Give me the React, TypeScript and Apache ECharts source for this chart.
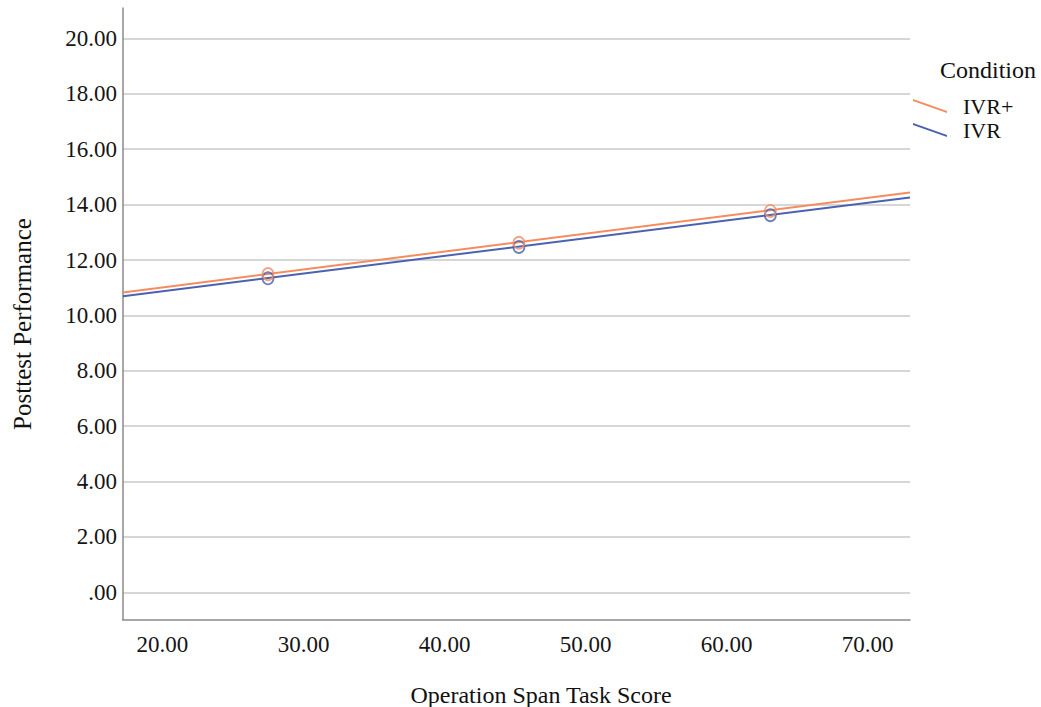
import React, { useEffect, useRef } from "react";
import * as echarts from "echarts";

const seriesNames = ["IVR+", "IVR"];
const seriesColors = ["#F58C5F", "#4A62AF"];
// fitted line end points [x, y]
const lineIVRPlus = [[17.2, 10.83], [73.0, 14.44]];
const lineIVR = [[17.2, 10.69], [73.0, 14.26]];
// plotted points at mean and ±1 SD of the span score
const pointsIVRPlus = [[27.48, 11.49], [45.27, 12.62], [63.1, 13.77]];
const pointsIVR = [[27.48, 11.34], [45.27, 12.47], [63.1, 13.62]];
const xRange = [17.2, 73.0];
const yRange = [-1.0, 21.1];

const fmt = (v: number) => (v === 0 ? ".00" : v.toFixed(2));
const serif = "Liberation Serif";

export default function App() {
  const ref = useRef<HTMLDivElement>(null);
  useEffect(() => {
    if (!ref.current) return;
    const chart = echarts.init(ref.current, null, { renderer: "svg" });
    chart.setOption({
      animation: false,
      backgroundColor: "#ffffff",
      textStyle: { fontFamily: serif },
      title: {
        text: "Condition",
        left: 935,
        top: 53,
        textStyle: { fontFamily: serif, fontSize: 24, fontWeight: "normal", color: "#111" },
      },
      legend: {
        orient: "vertical",
        left: 908,
        top: 90,
        itemWidth: 34,
        itemHeight: 14,
        itemGap: 2,
        data: [
          { name: seriesNames[0], icon: "path://M0,0 L34,12 L34,14 L0,2 Z" },
          { name: seriesNames[1], icon: "path://M0,0 L34,12 L34,14 L0,2 Z" },
        ],
        textStyle: { fontFamily: serif, fontSize: 22, lineHeight: 20, color: "#111", padding: [0, 0, 0, 11] },
      },
      grid: { left: 123, top: 8, right: 131, bottom: 87, containLabel: false, outerBoundsMode: "none" },
      xAxis: {
        type: "value",
        min: xRange[0],
        max: xRange[1],
        splitNumber: 5,
        name: "Operation Span Task Score",
        nameLocation: "middle",
        nameGap: 63,
        nameTextStyle: { fontFamily: serif, fontSize: 24, color: "#111", padding: [0, 0, 0, 49] },
        axisLine: { show: true, onZero: false, lineStyle: { color: "#8a8a8a", width: 1.5 } },
        axisTick: { show: false },
        splitLine: { show: false },
        axisLabel: {
          showMinLabel: false,
          showMaxLabel: false,
          formatter: fmt,
          fontFamily: serif,
          fontSize: 23,
          color: "#151515",
          margin: 13,
        },
      },
      yAxis: {
        type: "value",
        min: yRange[0],
        max: yRange[1],
        splitNumber: 11,
        name: "Posttest Performance",
        nameLocation: "middle",
        nameRotate: 90,
        nameGap: 88,
        nameTextStyle: { fontFamily: serif, fontSize: 25, color: "#111", padding: [0, 20, 0, 0] },
        axisLine: { show: true, onZero: false, lineStyle: { color: "#8a8a8a", width: 1.5 } },
        axisTick: { show: false },
        splitLine: {
          show: true,
          showMinLine: false,
          showMaxLine: false,
          lineStyle: { color: "#c8c8c8", width: 1.5 },
        },
        axisLabel: {
          showMinLabel: false,
          showMaxLabel: false,
          formatter: fmt,
          fontFamily: serif,
          fontSize: 23,
          color: "#151515",
          margin: 6,
        },
      },
      series: [
        {
          name: seriesNames[1],
          type: "line",
          data: lineIVR,
          symbol: "none",
          color: seriesColors[1],
          lineStyle: { color: seriesColors[1], width: 2 },
          z: 3,
        },
        {
          name: seriesNames[0],
          type: "line",
          data: lineIVRPlus,
          symbol: "none",
          color: seriesColors[0],
          lineStyle: { color: seriesColors[0], width: 2 },
          z: 4,
        },
        {
          name: seriesNames[1],
          type: "scatter",
          data: pointsIVR,
          symbol: "circle",
          symbolSize: [11, 12],
          itemStyle: { color: "transparent", borderColor: seriesColors[1], borderWidth: 1.8 },
          z: 5,
        },
        {
          name: seriesNames[0],
          type: "scatter",
          data: pointsIVRPlus,
          symbol: "circle",
          symbolSize: [11, 12],
          itemStyle: { color: "transparent", borderColor: seriesColors[0], borderWidth: 1.8 },
          z: 6,
        },
      ],
    });
    return () => chart.dispose();
  }, []);
  return <div ref={ref} style={{ width: 1041, height: 707, position: "absolute", left: 0, top: 0 }} />;
}
